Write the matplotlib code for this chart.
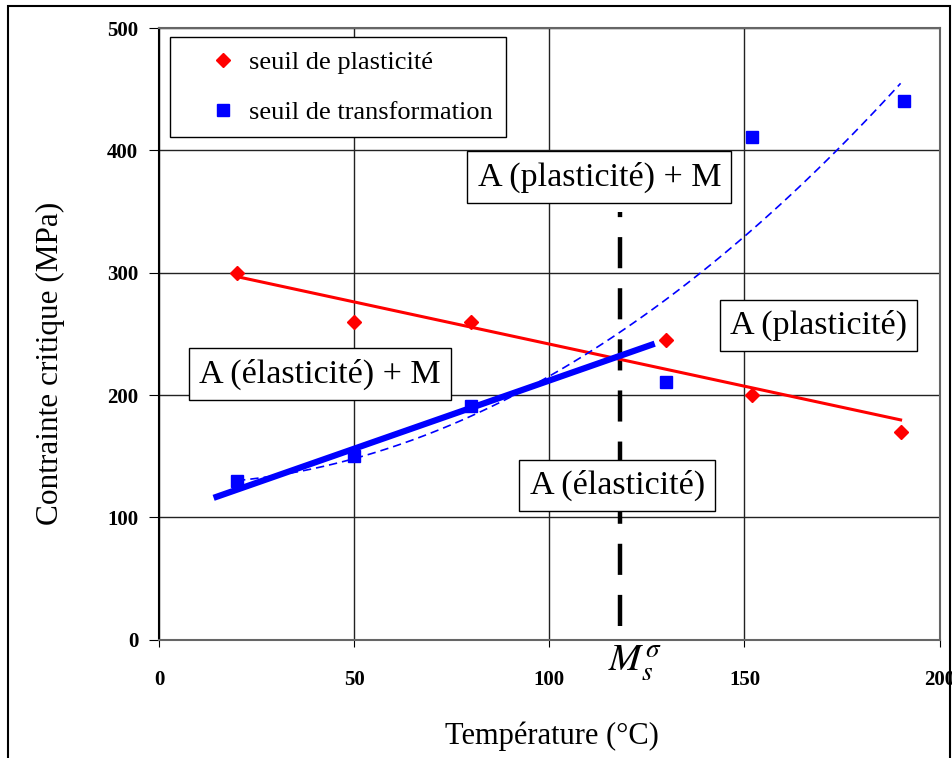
import numpy as np
import matplotlib
matplotlib.use('Agg')
import matplotlib.pyplot as plt
from matplotlib.patches import Rectangle

# seuil de plasticite (red diamonds)
plast_t = [20, 50, 80, 130, 152, 190]
plast_s = [300, 260, 260, 245, 200, 170]

# seuil de transformation (blue squares)
transf_t = [20, 50, 80, 130, 152, 191]
transf_s = [130, 150, 191, 211, 411, 440]

# hand drawn boundary A(elasticite)+M / A(plasticite)
bound_t = [14, 127]
bound_s = [116, 242]

# Ms sigma vertical marker
ms_t = 118
ms_range = [11, 350]

plt.rcParams['font.family'] = ['Liberation Serif', 'DejaVu Serif']
plt.rcParams['mathtext.fontset'] = 'stix'

fig = plt.figure(figsize=(9.52, 7.58), dpi=100)
ax = fig.add_axes([0.167, 0.156, 0.820, 0.807])

# linear fit of plasticity threshold
p = np.polyfit(plast_t, plast_s, 1)
xf = np.linspace(min(plast_t), max(plast_t), 50)
ax.plot(xf, np.polyval(p, xf), color='red', lw=2.2, zorder=3)

# trend of transformation threshold
q = np.polyfit(transf_t, transf_s, 2)
xq = np.linspace(20, 190, 100)
ax.plot(xq, np.polyval(q, xq), color='blue', lw=1.2, ls=(0, (5, 3)), zorder=3)

ax.plot(bound_t, bound_s, color='blue', lw=4.5, solid_capstyle='butt', zorder=4)

ax.plot([ms_t, ms_t], ms_range, color='black', lw=3.2, ls=(0, (7, 4.5)), zorder=2)

ax.plot(plast_t, plast_s, 'D', color='red', ms=7, ls='none', zorder=5,
        label='seuil de plasticité')
ax.plot(transf_t, transf_s, 's', color='blue', ms=9, ls='none', zorder=5,
        label='seuil de transformation')

ax.set_xlim(0, 200)
ax.set_ylim(0, 500)
ax.set_xticks([0, 50, 100, 150, 200])
ax.set_yticks([0, 100, 200, 300, 400, 500])
ax.grid(True, color='#222222', lw=1.0)
ax.set_axisbelow(True)
for s in ['top', 'right', 'bottom']:
    ax.spines[s].set_color('#666666')
    ax.spines[s].set_linewidth(1.5)
ax.spines['left'].set_color('black')
ax.spines['left'].set_linewidth(1.5)
ax.tick_params(axis='x', direction='out', length=5, pad=17, labelsize=15)
ax.tick_params(axis='y', direction='out', length=7, pad=8, labelsize=15)
for lab in ax.get_xticklabels() + ax.get_yticklabels():
    lab.set_fontweight('bold')

ax.set_ylabel('Contrainte critique (MPa)', fontsize=22.5)
ax.yaxis.set_label_coords(-0.121, 0.451)
ax.set_xlabel('Température (°C)', fontsize=22)
ax.xaxis.set_label_coords(0.504, -0.134)

box = dict(boxstyle='square,pad=0.3', fc='white', ec='black', lw=1.0)
ax.text(112.8, 378, 'A (plasticité) + M', fontsize=24.5, ha='center', va='center', bbox=box, zorder=6)
ax.text(169, 257, 'A (plasticité)', fontsize=24.5, ha='center', va='center', bbox=box, zorder=6)
ax.text(41.2, 217, 'A (élasticité) + M', fontsize=24.5, ha='center', va='center', bbox=box, zorder=6)
ax.text(117.4, 126, 'A (élasticité)', fontsize=24.5, ha='center', va='center', bbox=box, zorder=6)

ax.text(122, -19, r'$M_s^{\sigma}$', fontsize=28, ha='center', va='center', clip_on=False)

leg = ax.legend(loc='upper left', bbox_to_anchor=(0.014, 0.985), borderaxespad=0,
                fontsize=19, labelspacing=1.0, handletextpad=-0.5, borderpad=0.5,
                fancybox=False, framealpha=1, edgecolor='black', handlelength=3.0)
leg.get_frame().set_linewidth(1.0)

fig.patches.append(Rectangle((0.008, -0.01), 0.99, 1.002, transform=fig.transFigure,
                             fill=False, ec='black', lw=1.5))

fig.savefig('out.png', dpi=100)
